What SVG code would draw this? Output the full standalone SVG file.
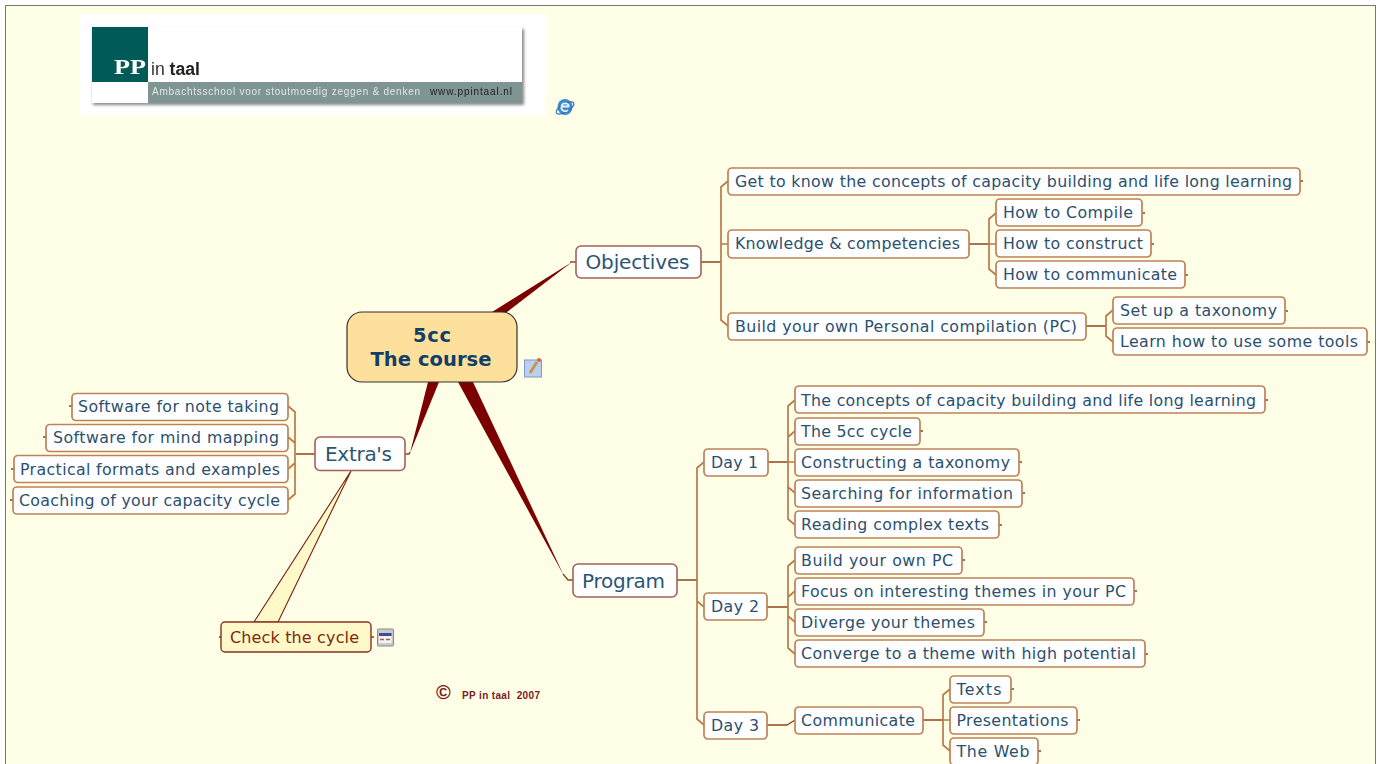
<svg xmlns="http://www.w3.org/2000/svg" width="1379" height="764" viewBox="0 0 1379 764">
<defs>
<style>
text{font-family:"DejaVu Sans",Verdana,sans-serif}
.n1 rect{fill:#fff;stroke:#a0635a;stroke-width:1.6}
.n2 rect{fill:#fff;stroke:#bd8256;stroke-width:1.7}
.n1 text{font-size:20px;fill:#2b5575}
.n2 text{font-size:15.8px;fill:#2b5070}
.t{fill:none;stroke:#b87a4a;stroke-width:1.7}
.s{fill:none;stroke:#94431e;stroke-width:1.4}
.k{fill:#7d0000}
</style>
<filter id="soft" x="-5%" y="-5%" width="110%" height="110%"><feGaussianBlur stdDeviation="0.5"/></filter>
<filter id="sh" x="-5%" y="-20%" width="110%" height="140%"><feGaussianBlur stdDeviation="1.5"/></filter>
</defs>
<rect x="0" y="0" width="1379" height="764" fill="#fff"/>
<rect x="5.5" y="5.5" width="1370" height="770" fill="#ffffe8" stroke="#777" stroke-width="1"/>

<g id="logo">
<rect x="80" y="14" width="466" height="102" fill="#fff"/>
<rect x="93" y="29" width="431" height="76" fill="#888" filter="url(#sh)"/>
<rect x="92" y="27" width="430" height="76" fill="#fff"/>
<rect x="92" y="27" width="56" height="55" fill="#005a58"/>
<rect x="148" y="82" width="374" height="21" fill="#7f9593"/>
<g filter="url(#soft)">
<text x="114" y="74" style="font-family:'Liberation Serif',serif" font-size="22" font-weight="700" fill="#fff" textLength="32" lengthAdjust="spacingAndGlyphs">PP</text>
<text x="151" y="75" style="font-family:'Liberation Sans',sans-serif" font-size="18" fill="#333" textLength="49" lengthAdjust="spacingAndGlyphs">in <tspan font-weight="700" fill="#222">taal</tspan></text>
<text x="152" y="95" style="font-family:'Liberation Sans',sans-serif" font-size="10" fill="#dfe8e6" textLength="268">Ambachtsschool voor stoutmoedig zeggen &amp; denken</text>
<text x="430" y="95" style="font-family:'Liberation Sans',sans-serif" font-size="10" fill="#222" textLength="82">www.ppintaal.nl</text>
</g>
</g>

<g id="connectors">
<polygon class="k" points="492,312 507,312 572,262"/>
<polygon class="k" points="458,382 473,382 564,576"/>
<polygon class="k" points="428,382 439,382 410,453"/>
<path class="s" d="M570 262H576M563 574L568 580H573M410 452L409 454H405"/>
<path class="s" d="M701 262H721M969 244H989M1086 326H1106M677 580H697M768 462H788M767 607H788M767 725H787L795 720M923 720H943M315 454H296"/>
<path class="t" d="M728 181L721 187V320L728 326M721 244H728"/>
<path class="t" d="M996 213L989 219V269L996 275M989 244H996"/>
<path class="t" d="M1113 310L1106 316V336L1113 342"/>
<path class="t" d="M704 462L697 468V719L704 725M697 601L704 607"/>
<path class="t" d="M795 400L788 406V519L795 525M788 437L795 431M788 462H795M788 487L795 493"/>
<path class="t" d="M795 560L788 566V648L795 654M788 597L795 591M788 616L795 622"/>
<path class="t" d="M950 689L943 695V745L950 751M943 720H950"/>
<path class="t" d="M288 406L295 412V494L288 500M288 437L295 443M295 463L288 469"/>
<path class="s" d="M1300 181H1303M1142 213H1145M1151 244H1154M1185 275H1188M1285 311H1288M1367 342H1370M1265 400H1268M920 431H923M1019 462H1022M1022 493H1025M999 525H1002M962 560H965M1134 591H1137M984 622H987M1145 654H1148M1011 689H1014M1077 720H1080M1038 751H1041M72 406H69M46 437H43M14 469H11M13 500H10M221 637H219M371 637H374"/>
</g>

<g id="callout">
<polygon points="351,471 254,622 278,622" fill="#fff8c8" stroke="#7a1f10" stroke-width="1.1" stroke-linejoin="round"/>
</g>

<g id="center"><rect x="347" y="312" width="170" height="70" rx="15" fill="#fde09c" stroke="#333" stroke-width="1.2"/>
<text x="432" y="342" text-anchor="middle" font-size="19.500" font-weight="700" fill="#123f66" textLength="38">5cc</text>
<text x="431" y="366" text-anchor="middle" font-size="19.500" font-weight="700" fill="#123f66" textLength="121">The course</text></g>

<g id="objectives" class="n1"><rect x="576" y="246" width="125" height="32" rx="5"/><text x="585.500" y="269" textLength="104">Objectives</text></g>
<g id="program" class="n1"><rect x="573" y="564" width="104" height="33" rx="5"/><text x="582" y="588" textLength="83">Program</text></g>
<g id="extras" class="n1"><rect x="315" y="437" width="90" height="33.500" rx="5"/><text x="325" y="461" textLength="67">Extra's</text></g>

<g id="o1" class="n2"><rect x="728" y="168" width="572" height="27" rx="4"/><text x="735" y="187" textLength="557">Get to know the concepts of capacity building and life long learning</text></g>
<g id="o2" class="n2"><rect x="728" y="230" width="241" height="28" rx="4"/><text x="735" y="249" textLength="225">Knowledge &amp; competencies</text></g>
<g id="o3" class="n2"><rect x="728" y="313" width="358" height="27" rx="4"/><text x="735" y="332" textLength="342">Build your own Personal compilation (PC)</text></g>
<g id="o21" class="n2"><rect x="996" y="199" width="146" height="27" rx="4"/><text x="1003" y="218" textLength="130">How to Compile</text></g>
<g id="o22" class="n2"><rect x="996" y="230" width="155" height="27" rx="4"/><text x="1003" y="249" textLength="140">How to construct</text></g>
<g id="o23" class="n2"><rect x="996" y="261" width="189" height="27" rx="4"/><text x="1003" y="280" textLength="174">How to communicate</text></g>
<g id="o31" class="n2"><rect x="1113" y="297" width="172" height="27" rx="4"/><text x="1120" y="316" textLength="157">Set up a taxonomy</text></g>
<g id="o32" class="n2"><rect x="1113" y="328" width="254" height="27" rx="4"/><text x="1120" y="347" textLength="238">Learn how to use some tools</text></g>

<g id="d1" class="n2"><rect x="704" y="449" width="64" height="27" rx="4"/><text x="711" y="468" textLength="47">Day 1</text></g>
<g id="d2" class="n2"><rect x="704" y="593" width="63" height="27" rx="4"/><text x="711" y="612" textLength="48">Day 2</text></g>
<g id="d3" class="n2"><rect x="704" y="712" width="63" height="27" rx="4"/><text x="711" y="731" textLength="48">Day 3</text></g>

<g id="d11" class="n2"><rect x="795" y="386" width="470" height="27" rx="4"/><text x="801" y="406" textLength="455">The concepts of capacity building and life long learning</text></g>
<g id="d12" class="n2"><rect x="795" y="418" width="125" height="27" rx="4"/><text x="801" y="437" textLength="111">The 5cc cycle</text></g>
<g id="d13" class="n2"><rect x="795" y="449" width="224" height="27" rx="4"/><text x="801" y="468" textLength="209">Constructing a taxonomy</text></g>
<g id="d14" class="n2"><rect x="795" y="480" width="227" height="27" rx="4"/><text x="801" y="499" textLength="212">Searching for information</text></g>
<g id="d15" class="n2"><rect x="795" y="511" width="204" height="27" rx="4"/><text x="801" y="530" textLength="188">Reading complex texts</text></g>
<g id="d21" class="n2"><rect x="795" y="547" width="167" height="27" rx="4"/><text x="801" y="566" textLength="152">Build your own PC</text></g>
<g id="d22" class="n2"><rect x="795" y="578" width="339" height="27" rx="4"/><text x="801" y="597" textLength="325">Focus on interesting themes in your PC</text></g>
<g id="d23" class="n2"><rect x="795" y="609" width="189" height="27" rx="4"/><text x="801" y="628" textLength="174">Diverge your themes</text></g>
<g id="d24" class="n2"><rect x="795" y="640" width="350" height="27" rx="4"/><text x="801" y="659" textLength="335">Converge to a theme with high potential</text></g>
<g id="d31" class="n2"><rect x="795" y="707" width="128" height="27" rx="4"/><text x="801" y="726" textLength="114">Communicate</text></g>
<g id="d311" class="n2"><rect x="950" y="676" width="61" height="27" rx="4"/><text x="956.500" y="695" textLength="45">Texts</text></g>
<g id="d312" class="n2"><rect x="950" y="707" width="127" height="27" rx="4"/><text x="956.500" y="726" textLength="112">Presentations</text></g>
<g id="d313" class="n2"><rect x="950" y="738" width="88" height="27" rx="4"/><text x="956.500" y="757" textLength="73">The Web</text></g>

<g id="e1" class="n2"><rect x="72" y="393.500" width="216" height="27" rx="4"/><text x="78" y="412" textLength="201">Software for note taking</text></g>
<g id="e2" class="n2"><rect x="46" y="424.500" width="242" height="27" rx="4"/><text x="53" y="443" textLength="226">Software for mind mapping</text></g>
<g id="e3" class="n2"><rect x="14" y="455.500" width="274" height="27" rx="4"/><text x="20" y="474.500" textLength="260">Practical formats and examples</text></g>
<g id="e4" class="n2"><rect x="13" y="487" width="275" height="27" rx="4"/><text x="19" y="505.500" textLength="261">Coaching of your capacity cycle</text></g>

<g id="check"><rect x="221" y="622" width="150" height="30" rx="4" fill="#fff8c8" stroke="#8a3020" stroke-width="1.4"/>
<text x="230" y="643" font-size="16" fill="#7c2a10" textLength="129">Check the cycle</text></g>

<g id="copyright">
<text x="436" y="699" style="font-family:'Liberation Sans',sans-serif" font-size="20" font-weight="700" fill="#7d1a1a">©</text>
<text x="462" y="699" style="font-family:'Liberation Sans',sans-serif" font-size="10" font-weight="700" fill="#7d1a1a" textLength="78" xml:space="preserve">PP in taal  2007</text>
</g>

<g id="icon-web">
<ellipse cx="565" cy="107" rx="7.500" ry="8" fill="#3f8ad0"/>
<ellipse cx="565" cy="108" rx="10" ry="4" fill="none" stroke="#2f6fb5" stroke-width="1.200" transform="rotate(-30 565 108)"/>
<path d="M561.500 106.500H569M561.500 106.500a3.800 3.800 0 0 1 7.500 0M561.500 106.500a3.800 3.800 0 0 0 6.500 3.500" fill="none" stroke="#e4f2ff" stroke-width="1.800"/>
</g>
<g id="icon-note">
<rect x="524.500" y="360" width="17" height="17" fill="#bcd0ee" stroke="#7d9ad0"/>
<path d="M530 373L537 362" stroke="#c09a40" stroke-width="3"/>
<circle cx="539" cy="360" r="2" fill="#d9604a"/>
</g>
<g id="icon-cal">
<rect x="377.500" y="629" width="16" height="17" rx="1" fill="#c8cacc" stroke="#8a8a8a"/>
<rect x="379" y="633" width="12.500" height="3" fill="#3a4f96"/>
<rect x="379" y="636" width="12.500" height="7" fill="#f4f4f4"/>
<path d="M380 639.500H384M386 639.500H390" stroke="#c05050" stroke-width="1.500"/>
</g>
</svg>
